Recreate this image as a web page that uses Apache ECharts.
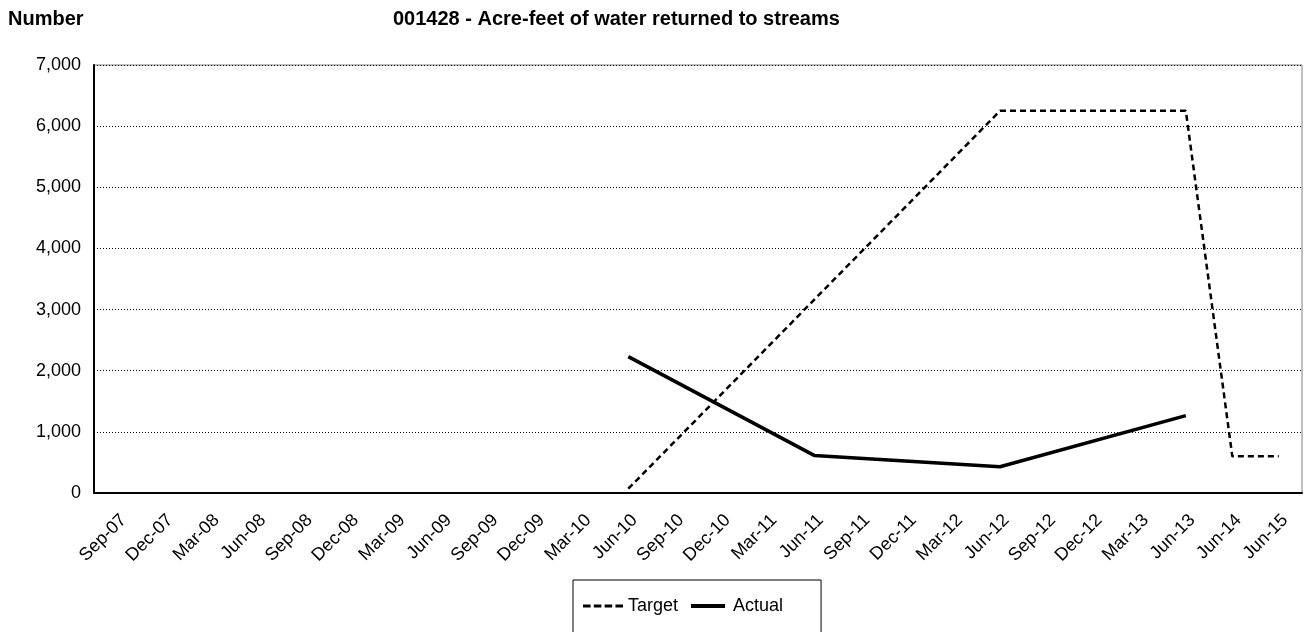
<!DOCTYPE html>
<html>
<head>
<meta charset="utf-8">
<script src="https://cdn.jsdelivr.net/npm/echarts@6/dist/echarts.min.js"></script>
<style>
html,body{margin:0;padding:0;background:#fff;}
#c{width:1308px;height:632px;}
</style>
</head>
<body>
<div id="c"></div>
<script>
var categories = ['Sep-07','Dec-07','Mar-08','Jun-08','Sep-08','Dec-08','Mar-09','Jun-09','Sep-09','Dec-09','Mar-10','Jun-10','Sep-10','Dec-10','Mar-11','Jun-11','Sep-11','Dec-11','Mar-12','Jun-12','Sep-12','Dec-12','Mar-13','Jun-13','Jun-14','Jun-15'];
var targetValues = [null,null,null,null,null,null,null,null,null,null,null,70,null,null,null,null,null,null,null,6250,null,null,null,6250,600,600];
var actualValues = [null,null,null,null,null,null,null,null,null,null,null,2230,null,null,null,615,null,null,null,430,null,null,null,1265,null,null];
var yTicks = [0,1000,2000,3000,4000,5000,6000,7000];

var FONT = 'Liberation Sans, Arial, sans-serif';
var chart = echarts.init(document.getElementById('c'), null, {renderer:'canvas'});
chart.setOption({
  animation:false,
  backgroundColor:'#fff',
  textStyle:{fontFamily:FONT},
  title:[
    {text:'Number', left:3, top:4, textStyle:{fontFamily:FONT, fontWeight:'bold', fontSize:20, color:'#000'}},
    {text:'001428 - Acre-feet of water returned to streams', left:388, top:4, textStyle:{fontFamily:FONT, fontWeight:'bold', fontSize:20, color:'#000'}}
  ],
  grid:{left:94, right:6, top:65, bottom:139, show:true, borderColor:'#808080', borderWidth:1, backgroundColor:'transparent'},
  legend:{
    data:[
      {name:'Target', icon:'path://M0,0h7v2.6h-7zM10,0h7v2.6h-7zM20,0h7v2.6h-7zM30,0h7v2.6h-7z'},
      {name:'Actual', icon:'path://M0,0h34v4h-34z'}
    ],
    left:573, top:580,
    padding:[17,38,30,10],
    itemGap:13, itemWidth:40, itemHeight:4,
    borderColor:'#000', borderWidth:1,
    textStyle:{fontFamily:FONT, fontSize:18, color:'#000'}
  },
  xAxis:{
    type:'category', data:categories, boundaryGap:true,
    axisLine:{lineStyle:{color:'#000', width:2}},
    axisTick:{show:false},
    axisLabel:{rotate:45, interval:0, fontFamily:FONT, fontSize:18, color:'#000', margin:18, verticalAlign:'top'}
  },
  yAxis:{
    type:'value', min:0, max:7000, interval:1000,
    axisLine:{show:true, lineStyle:{color:'#000', width:2}},
    axisTick:{show:false},
    axisLabel:{fontFamily:FONT, fontSize:18, color:'#000', margin:13,
      formatter:function(v){ return yTicks.indexOf(v) >= 0 ? v.toLocaleString('en-US') : ''; }},
    splitLine:{show:true, lineStyle:{color:'#000', width:1, type:[1,2]}}
  },
  series:[
    {name:'Target', type:'line', data:targetValues, connectNulls:true, symbol:'none',
     itemStyle:{color:'#000'},
     lineStyle:{color:'#000', width:2.5, type:[6,4]}},
    {name:'Actual', type:'line', data:actualValues, connectNulls:true, symbol:'none',
     itemStyle:{color:'#000'},
     lineStyle:{color:'#000', width:3.5, type:'solid'}}
  ]
});
</script>
</body>
</html>
